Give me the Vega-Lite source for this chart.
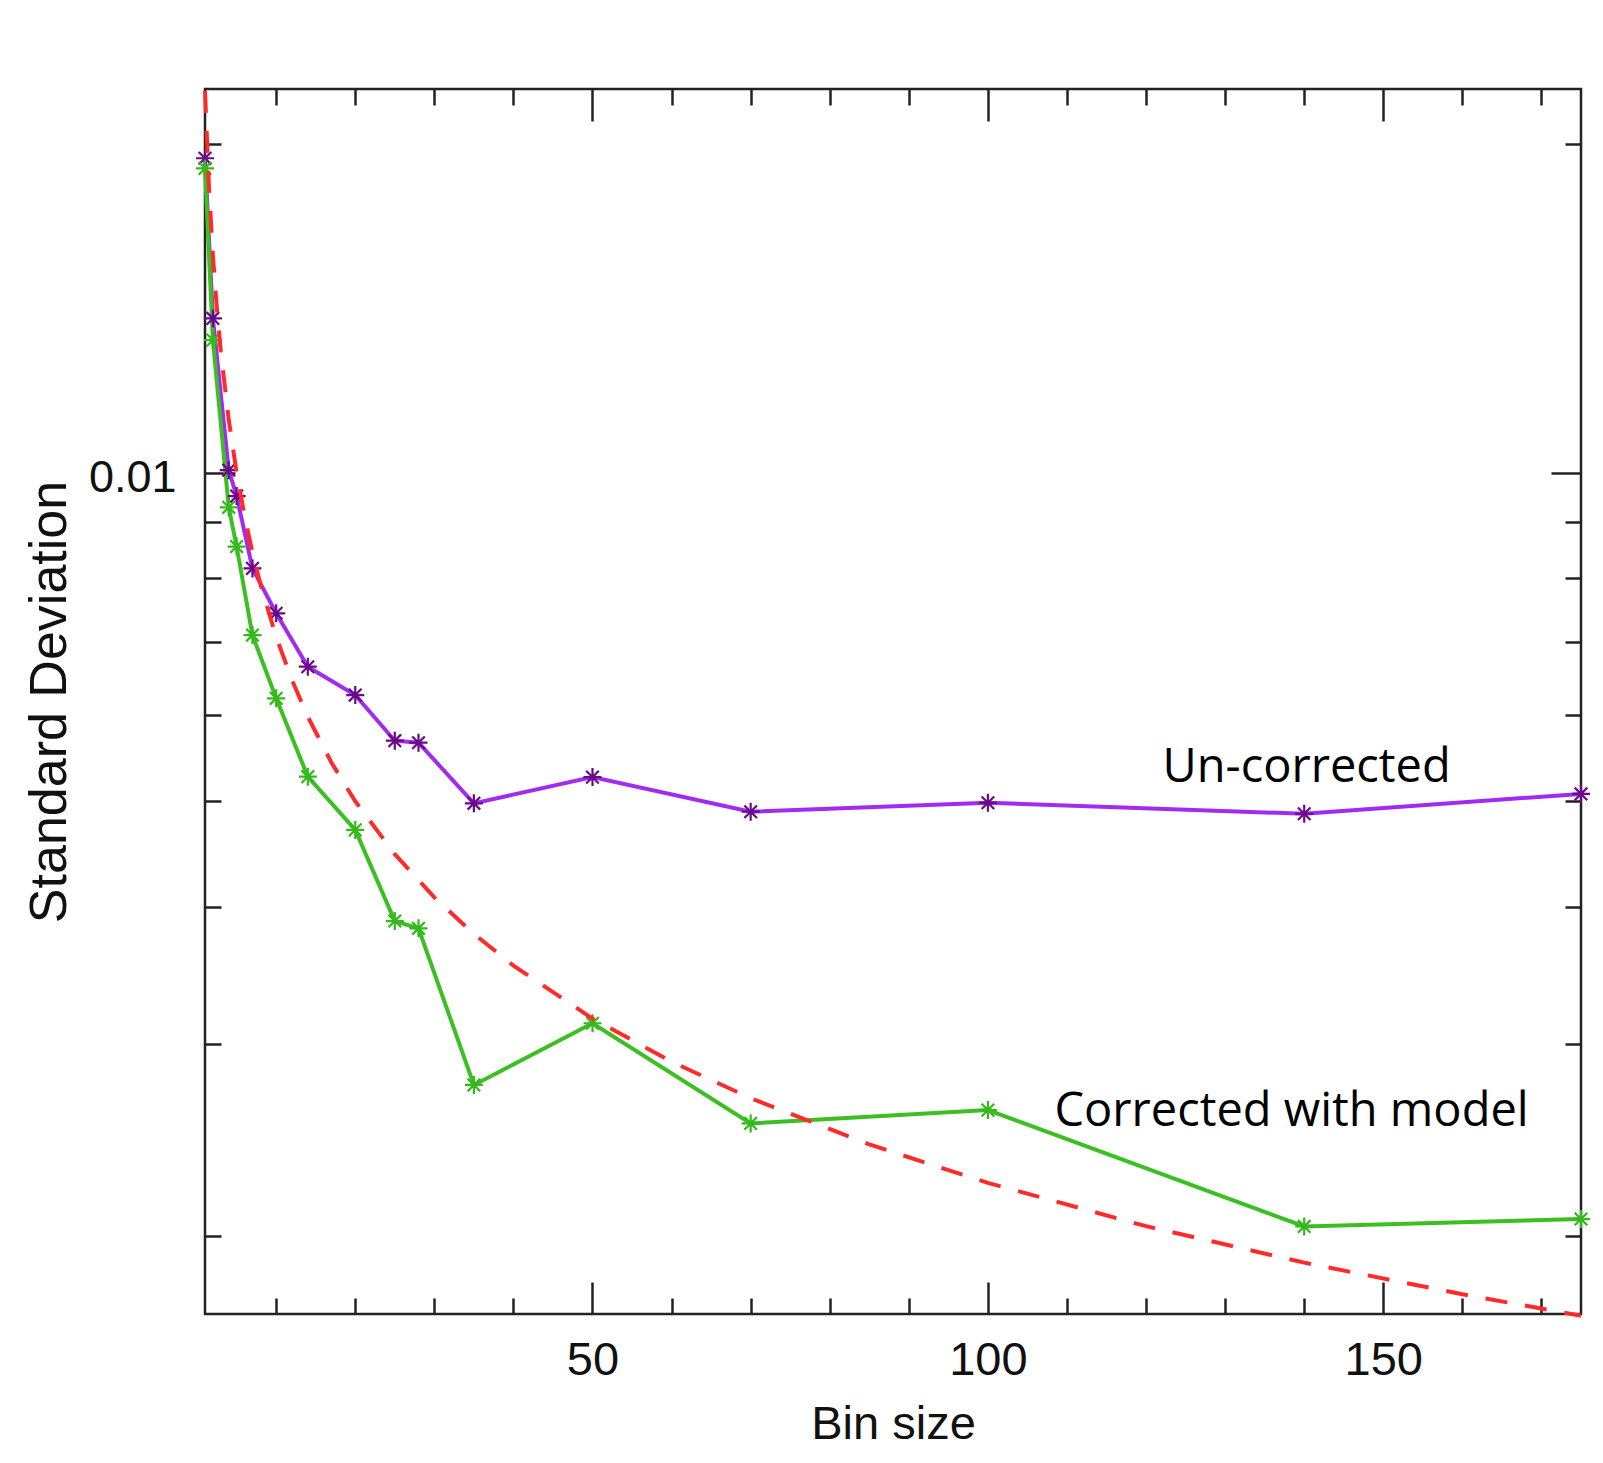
{
  "$schema": "https://vega.github.io/schema/vega-lite/v6.json",
  "width": 1376,
  "height": 1225,
  "autosize": {"type": "none"},
  "padding": {"left": 205, "top": 89, "right": 22, "bottom": 149},
  "background": "white",
  "config": {"view": {"stroke": "#222222", "strokeWidth": 2.5}, "font": "Liberation Sans"},
  "datasets": {
    "series": [
      {"bin": 1, "sd": 0.01940, "series": "Un-corrected"},
      {"bin": 2, "sd": 0.01384, "series": "Un-corrected"},
      {"bin": 4, "sd": 0.01005, "series": "Un-corrected"},
      {"bin": 5, "sd": 0.009516, "series": "Un-corrected"},
      {"bin": 7, "sd": 0.008170, "series": "Un-corrected"},
      {"bin": 10, "sd": 0.007432, "series": "Un-corrected"},
      {"bin": 14, "sd": 0.006640, "series": "Un-corrected"},
      {"bin": 20, "sd": 0.006255, "series": "Un-corrected"},
      {"bin": 25, "sd": 0.005681, "series": "Un-corrected"},
      {"bin": 28, "sd": 0.005657, "series": "Un-corrected"},
      {"bin": 35, "sd": 0.004978, "series": "Un-corrected"},
      {"bin": 50, "sd": 0.005261, "series": "Un-corrected"},
      {"bin": 70, "sd": 0.004891, "series": "Un-corrected"},
      {"bin": 100, "sd": 0.004984, "series": "Un-corrected"},
      {"bin": 140, "sd": 0.004870, "series": "Un-corrected"},
      {"bin": 175, "sd": 0.005078, "series": "Un-corrected"},
      {"bin": 1, "sd": 0.01899, "series": "Corrected with model"},
      {"bin": 2, "sd": 0.01322, "series": "Corrected with model"},
      {"bin": 4, "sd": 0.009293, "series": "Corrected with model"},
      {"bin": 5, "sd": 0.008554, "series": "Corrected with model"},
      {"bin": 7, "sd": 0.007098, "series": "Corrected with model"},
      {"bin": 10, "sd": 0.006212, "series": "Corrected with model"},
      {"bin": 14, "sd": 0.005266, "series": "Corrected with model"},
      {"bin": 20, "sd": 0.004707, "series": "Corrected with model"},
      {"bin": 25, "sd": 0.003884, "series": "Corrected with model"},
      {"bin": 28, "sd": 0.003825, "series": "Corrected with model"},
      {"bin": 35, "sd": 0.002749, "series": "Corrected with model"},
      {"bin": 50, "sd": 0.003131, "series": "Corrected with model"},
      {"bin": 70, "sd": 0.002535, "series": "Corrected with model"},
      {"bin": 100, "sd": 0.002607, "series": "Corrected with model"},
      {"bin": 140, "sd": 0.002040, "series": "Corrected with model"},
      {"bin": 175, "sd": 0.002072, "series": "Corrected with model"}
    ],
    "model": [
      {"bin": 1, "sd": 0.02236},
      {"bin": 1.5, "sd": 0.01826},
      {"bin": 2, "sd": 0.01581},
      {"bin": 2.5, "sd": 0.01414},
      {"bin": 3, "sd": 0.01291},
      {"bin": 4, "sd": 0.01118},
      {"bin": 5, "sd": 0.01000},
      {"bin": 6, "sd": 0.009129},
      {"bin": 7, "sd": 0.008451},
      {"bin": 8, "sd": 0.007906},
      {"bin": 10, "sd": 0.007071},
      {"bin": 12, "sd": 0.006455},
      {"bin": 14, "sd": 0.005976},
      {"bin": 17, "sd": 0.005423},
      {"bin": 20, "sd": 0.005000},
      {"bin": 25, "sd": 0.004472},
      {"bin": 30, "sd": 0.004082},
      {"bin": 35, "sd": 0.003780},
      {"bin": 40, "sd": 0.003536},
      {"bin": 50, "sd": 0.003162},
      {"bin": 60, "sd": 0.002887},
      {"bin": 70, "sd": 0.002673},
      {"bin": 85, "sd": 0.002425},
      {"bin": 100, "sd": 0.002236},
      {"bin": 120, "sd": 0.002041},
      {"bin": 140, "sd": 0.001890},
      {"bin": 160, "sd": 0.001768},
      {"bin": 175, "sd": 0.001690}
    ],
    "notes": [
      {"bin": 140.3, "sd": 0.005203, "note": "Un-corrected"},
      {"bin": 138.4, "sd": 0.002523, "note": "Corrected with model"}
    ]
  },
  "resolve": {"axis": {"x": "independent", "y": "independent"}},
  "layer": [
    {
      "data": {"name": "series"},
      "mark": {"type": "line", "strokeWidth": 4},
      "encoding": {
        "x": {
          "field": "bin", "type": "quantitative",
          "scale": {"domain": [1, 175], "nice": false, "zero": false},
          "axis": {
            "orient": "bottom",
            "values": [10, 20, 30, 40, 50, 60, 70, 80, 90, 100, 110, 120, 130, 140, 150, 160, 170],
            "domain": false, "grid": false,
            "tickColor": "#222222", "tickWidth": 2.5,
            "tickSize": {"condition": {"test": "datum.value % 50 === 0", "value": -32}, "value": -16},
            "labelExpr": "datum.value % 50 === 0 ? datum.label : ''",
            "labelFont": "Liberation Sans", "labelFontSize": 47, "labelColor": "#111111",
            "labelPadding": 55, "labelOverlap": false, "labelFlush": false,
            "title": "Bin size", "titleFont": "Liberation Sans", "titleFontSize": 47,
            "titleFontWeight": "normal", "titleColor": "#111111", "titlePadding": 2
          }
        },
        "y": {
          "field": "sd", "type": "quantitative",
          "scale": {"type": "log", "domain": [0.001696, 0.02245], "nice": false},
          "axis": {
            "orient": "left",
            "values": [0.002, 0.003, 0.004, 0.005, 0.006, 0.007, 0.008, 0.009, 0.01, 0.02],
            "domain": false, "grid": false,
            "tickColor": "#222222", "tickWidth": 2.5,
            "tickSize": {"condition": {"test": "datum.value === 0.01", "value": -30}, "value": -16},
            "labelExpr": "datum.value === 0.01 ? '0.01' : ''",
            "labelFont": "Liberation Sans", "labelFontSize": 45, "labelColor": "#111111",
            "labelPadding": 59, "labelOffset": 5, "labelOverlap": false, "labelFlush": false,
            "title": "Standard Deviation", "titleFont": "Liberation Sans", "titleFontSize": 52,
            "titleFontWeight": "normal", "titleColor": "#111111", "titlePadding": 12
          }
        },
        "color": {
          "field": "series", "type": "nominal",
          "scale": {"domain": ["Un-corrected", "Corrected with model"], "range": ["#a12bf0", "#3cbf22"]},
          "legend": null
        }
      }
    },
    {
      "data": {"name": "series"},
      "mark": {"type": "point", "shape": "M-1,0L1,0M0,-1L0,1M-0.7,-0.7L0.7,0.7M-0.7,0.7L0.7,-0.7", "filled": false, "size": 324, "strokeWidth": 2.2, "opacity": 1},
      "encoding": {
        "x": {
          "field": "bin", "type": "quantitative",
          "scale": {"domain": [1, 175], "nice": false, "zero": false},
          "axis": {
            "orient": "top",
            "values": [10, 20, 30, 40, 50, 60, 70, 80, 90, 100, 110, 120, 130, 140, 150, 160, 170],
            "domain": false, "grid": false, "labels": false, "title": null,
            "tickColor": "#222222", "tickWidth": 2.5,
            "tickSize": {"condition": {"test": "datum.value % 50 === 0", "value": -32}, "value": -16}
          }
        },
        "y": {
          "field": "sd", "type": "quantitative",
          "scale": {"type": "log", "domain": [0.001696, 0.02245], "nice": false},
          "axis": {
            "orient": "right",
            "values": [0.002, 0.003, 0.004, 0.005, 0.006, 0.007, 0.008, 0.009, 0.01, 0.02],
            "domain": false, "grid": false, "labels": false, "title": null,
            "tickColor": "#222222", "tickWidth": 2.5,
            "tickSize": {"condition": {"test": "datum.value === 0.01", "value": -30}, "value": -16}
          }
        },
        "stroke": {
          "field": "series", "type": "nominal",
          "scale": {"domain": ["Un-corrected", "Corrected with model"], "range": ["#6a0a88", "#34b81c"]},
          "legend": null
        }
      }
    },
    {
      "data": {"name": "model"},
      "mark": {"type": "line", "color": "#ff2b2b", "strokeWidth": 4, "strokeDash": [22, 18]},
      "encoding": {
        "x": {"field": "bin", "type": "quantitative", "scale": {"domain": [1, 175], "nice": false, "zero": false}, "axis": null},
        "y": {"field": "sd", "type": "quantitative", "scale": {"type": "log", "domain": [0.001696, 0.02245], "nice": false}, "axis": null}
      }
    },
    {
      "data": {"name": "notes"},
      "mark": {"type": "text", "font": "Open Sans", "fontSize": 47, "align": "center", "baseline": "alphabetic", "color": "#000000"},
      "encoding": {
        "x": {"field": "bin", "type": "quantitative", "scale": {"domain": [1, 175], "nice": false, "zero": false}, "axis": null},
        "y": {"field": "sd", "type": "quantitative", "scale": {"type": "log", "domain": [0.001696, 0.02245], "nice": false}, "axis": null},
        "text": {"field": "note"}
      }
    }
  ]
}
